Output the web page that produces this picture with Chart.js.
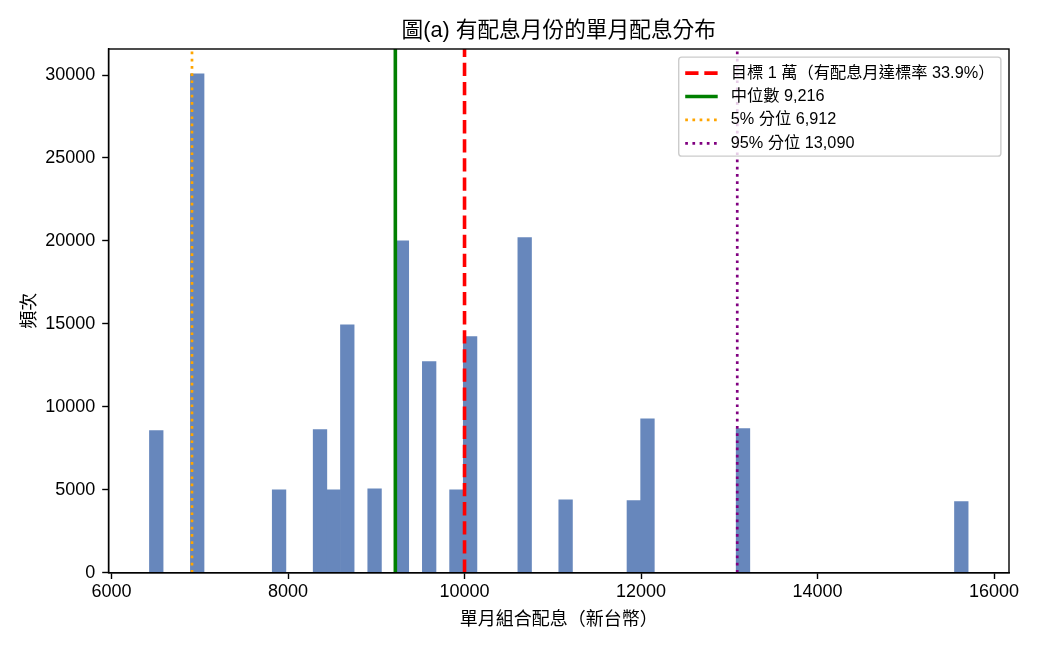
<!DOCTYPE html>
<html>
<head>
<meta charset="utf-8">
<script src="https://cdn.jsdelivr.net/npm/chart.js@4.4.0/dist/chart.umd.min.js"></script>
<style>
html,body{margin:0;padding:0;background:#fff;}
#wrap{width:1040px;height:650px;}
</style>
</head>
<body>
<div id="wrap"><canvas id="c" width="1040" height="650"></canvas></div>
<script>
const FONT = "'Liberation Sans', 'Noto Sans CJK TC', 'DejaVu Sans', sans-serif";

const chartTitle = '圖(a) 有配息月份的單月配息分布';
const xLabel = '單月組合配息（新台幣）';
const yLabel = '頻次';

// histogram bins (centres of non-empty bins) and their counts
const binCenters = [6507.3, 6971.1, 7898.7, 8362.5, 8517.1, 8671.7, 8980.9, 9290.1, 9599.3,
                    9908.5, 10063.1, 10681.5, 11145.3, 11918.3, 12072.9, 13155.1, 15628.7];
const binCounts  = [8570, 30065, 5000, 8630, 5000, 14940, 5060, 20000, 12720,
                    5000, 14230, 20200, 4400, 4340, 9280, 8680, 4280];

// reference lines
const refLabels = ['目標 1 萬（有配息月達標率 33.9%）', '中位數 9,216', '5% 分位 6,912', '95% 分位 13,090'];
const refValues = [10000, 9216, 6912, 13090];
const refColors = ['#ff0000', '#008000', '#ffa500', '#800080'];

// axes
const xTickValues = [6000, 8000, 10000, 12000, 14000, 16000];
const yTickValues = [0, 5000, 10000, 15000, 20000, 25000, 30000];
const xRange = [5966, 16169];
const yRange = [0, 31568];

const refWidths = [3.6, 3.6, 2.7, 2.7];
const refDashes = [[13.3, 5.8], [], [2.7, 4.5], [2.7, 4.5]];

const datasets = [{
  type: 'bar',
  label: 'hist',
  data: binCenters.map((x, i) => ({x: x, y: binCounts[i]})),
  backgroundColor: 'rgb(103,135,188)',
  borderWidth: 0,
  barPercentage: 1,
  categoryPercentage: 1,
  order: 2
}];
refValues.forEach((v, i) => {
  datasets.push({
    type: 'line',
    label: refLabels[i],
    data: [{x: v, y: yRange[0]}, {x: v, y: yRange[1]}],
    borderColor: refColors[i],
    borderWidth: refWidths[i],
    borderDash: refDashes[i],
    pointRadius: 0,
    fill: false,
    tension: 0,
    order: 1
  });
});

const framePlugin = {
  id: 'frame',
  afterDatasetsDraw(chart) {
    const ctx = chart.ctx, a = chart.chartArea;
    ctx.save();
    ctx.strokeStyle = '#000';
    ctx.lineWidth = 1.4;
    ctx.setLineDash([]);
    ctx.strokeRect(a.left, a.top, a.right - a.left, a.bottom - a.top);
    ctx.restore();
  }
};

const titlePlugin = {
  id: 'mplTitle',
  afterDraw(chart) {
    const ctx = chart.ctx, a = chart.chartArea;
    ctx.save();
    ctx.font = '21.7px ' + FONT;
    ctx.fillStyle = '#000';
    ctx.textAlign = 'center';
    ctx.textBaseline = 'middle';
    ctx.fillText(chartTitle, (a.left + a.right) / 2, 31);
    ctx.restore();
  }
};

const legendPlugin = {
  id: 'mplLegend',
  afterDraw(chart) {
    const ctx = chart.ctx, a = chart.chartArea;
    const fs = 16.25;
    const items = chart.data.datasets.filter(d => d.type === 'line');
    ctx.save();
    ctx.font = fs + 'px ' + FONT;
    const textW = Math.max(...items.map(d => ctx.measureText(d.label).width));
    const pad = 0.4 * fs, handleLen = 2 * fs, textPad = 0.8 * fs, axPad = 0.5 * fs;
    const rowH = 23.4;
    const w = pad + handleLen + textPad + textW + pad;
    const h = 99;
    const x0 = a.right - axPad - w, y0 = a.top + axPad;
    const r = 3;
    ctx.beginPath();
    ctx.moveTo(x0 + r, y0);
    ctx.lineTo(x0 + w - r, y0);
    ctx.arcTo(x0 + w, y0, x0 + w, y0 + r, r);
    ctx.lineTo(x0 + w, y0 + h - r);
    ctx.arcTo(x0 + w, y0 + h, x0 + w - r, y0 + h, r);
    ctx.lineTo(x0 + r, y0 + h);
    ctx.arcTo(x0, y0 + h, x0, y0 + h - r, r);
    ctx.lineTo(x0, y0 + r);
    ctx.arcTo(x0, y0, x0 + r, y0, r);
    ctx.closePath();
    ctx.fillStyle = 'rgba(255,255,255,0.8)';
    ctx.fill();
    ctx.strokeStyle = '#cccccc';
    ctx.lineWidth = 1.4;
    ctx.stroke();
    items.forEach((d, i) => {
      const cy = y0 + 16 + i * rowH;
      ctx.beginPath();
      ctx.setLineDash(d.borderDash || []);
      ctx.lineWidth = d.borderWidth;
      ctx.strokeStyle = d.borderColor;
      ctx.moveTo(x0 + pad, cy);
      ctx.lineTo(x0 + pad + handleLen, cy);
      ctx.stroke();
      ctx.setLineDash([]);
      ctx.fillStyle = '#000';
      ctx.textAlign = 'left';
      ctx.textBaseline = 'middle';
      ctx.fillText(d.label, x0 + pad + handleLen + textPad, cy);
    });
    ctx.restore();
  }
};

Chart.defaults.font.family = FONT;
Chart.defaults.color = '#000';

new Chart(document.getElementById('c'), {
  type: 'bar',
  data: {datasets: datasets},
  options: {
    responsive: false,
    animation: false,
    events: [],
    layout: {padding: {top: 49, right: 31, bottom: 0, left: 0}},
    plugins: {
      legend: {display: false},
      title: {display: false},
      tooltip: {enabled: false}
    },
    scales: {
      x: {
        type: 'linear',
        min: xRange[0],
        max: xRange[1],
        offset: false,
        grid: {display: true, drawOnChartArea: false, drawTicks: true, tickLength: 6.3, tickWidth: 1.4, tickColor: '#000', offset: false},
        border: {display: true, color: '#000', width: 1.4},
        ticks: {font: {size: 18, family: FONT}, color: '#000', padding: 2, maxRotation: 0, autoSkip: false,
                callback: v => String(v)},
        afterBuildTicks: s => { s.ticks = xTickValues.map(v => ({value: v})); },
        afterFit: s => { s.height = 77.3; },
        title: {display: true, text: xLabel, font: {size: 18, family: FONT}, color: '#000', padding: {top: 0, bottom: 19.2}}
      },
      y: {
        type: 'linear',
        min: yRange[0],
        max: yRange[1],
        grid: {display: true, drawOnChartArea: false, drawTicks: true, tickLength: 6.3, tickWidth: 1.4, tickColor: '#000'},
        border: {display: true, color: '#000', width: 1.4},
        ticks: {font: {size: 18, family: FONT}, color: '#000', padding: 7, autoSkip: false,
                callback: v => String(v)},
        afterBuildTicks: s => { s.ticks = yTickValues.map(v => ({value: v})); },
        afterFit: s => { s.width = 108.5; },
        title: {display: true, text: yLabel, font: {size: 18, family: FONT}, color: '#000', padding: {top: 19.2, bottom: 0}}
      }
    }
  },
  plugins: [framePlugin, titlePlugin, legendPlugin]
});
</script>
</body>
</html>
